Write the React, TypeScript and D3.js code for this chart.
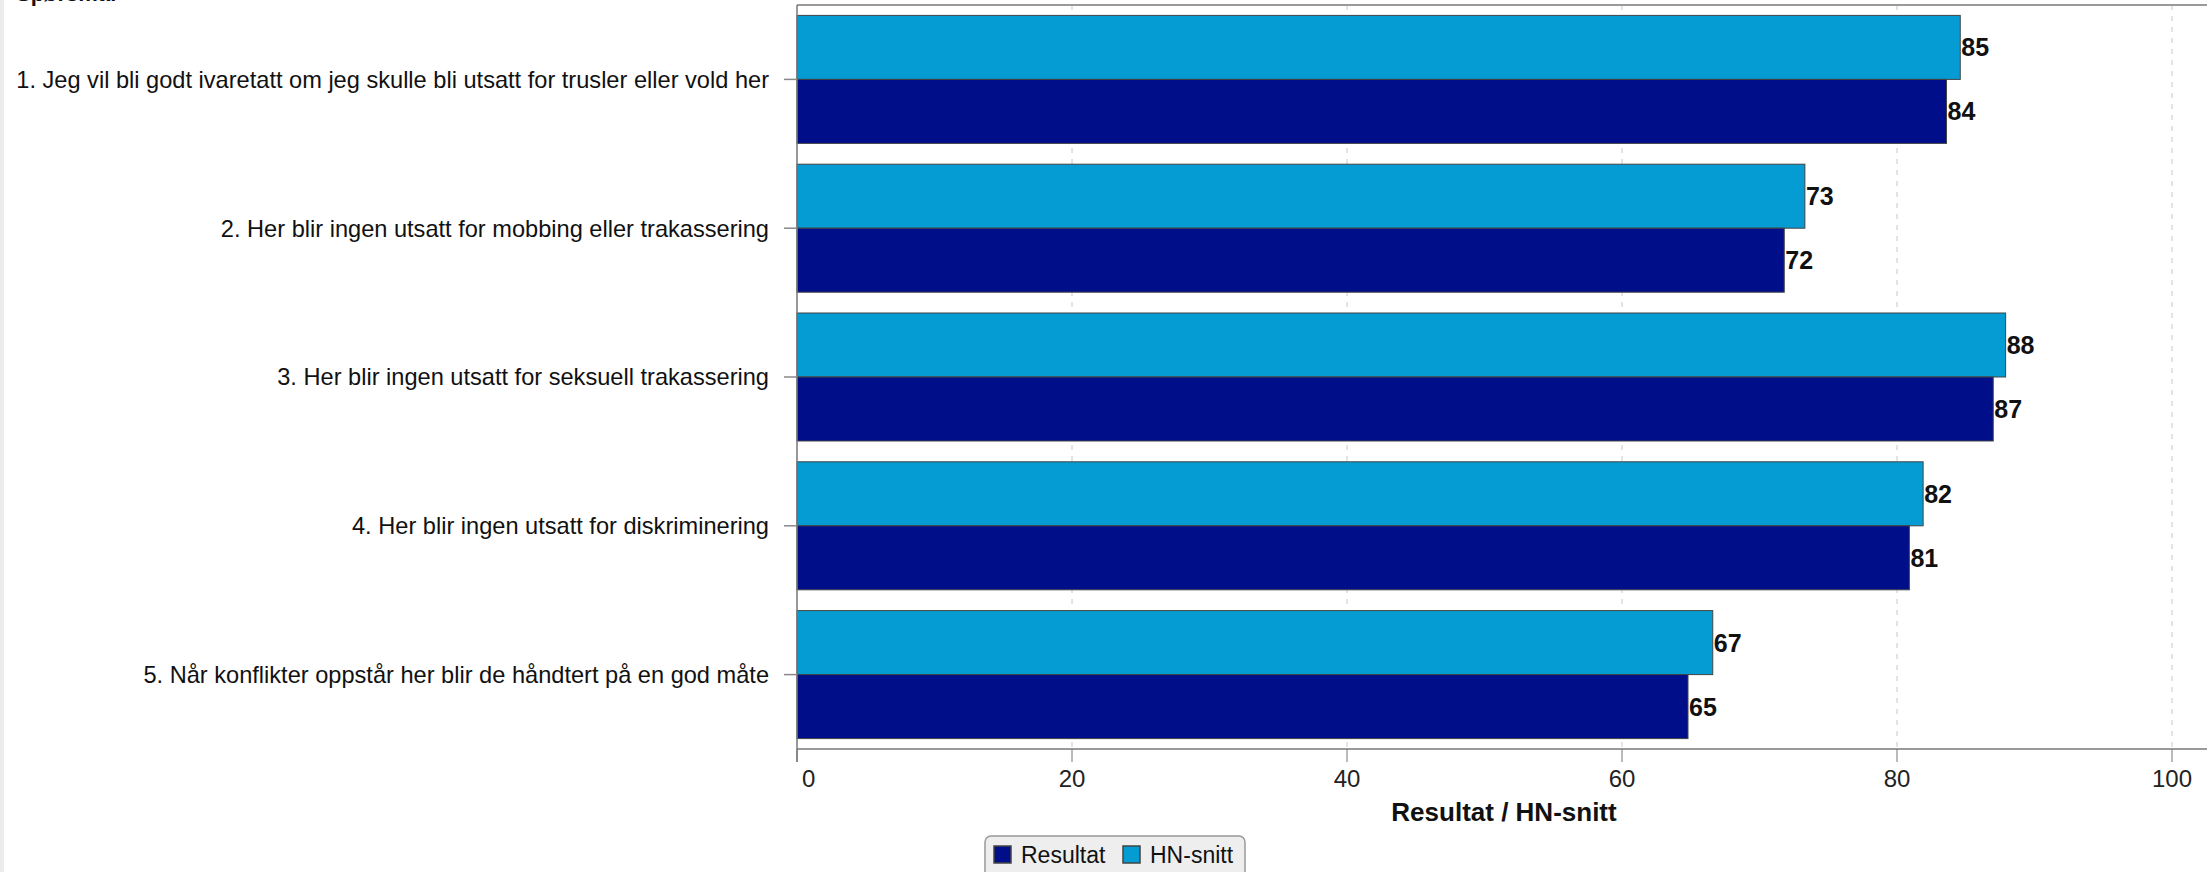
import React, { useEffect } from "react";
import * as d3 from "d3";

const categories = [
  "1. Jeg vil bli godt ivaretatt om jeg skulle bli utsatt for trusler eller vold her",
  "2. Her blir ingen utsatt for mobbing eller trakassering",
  "3. Her blir ingen utsatt for seksuell trakassering",
  "4. Her blir ingen utsatt for diskriminering",
  "5. Når konflikter oppstår her blir de håndtert på en god måte",
];
const seriesNames = ["HN-snitt", "Resultat"];
const hnValues = [84.6, 73.3, 87.9, 81.9, 66.6];
const resultatValues = [83.6, 71.8, 87.0, 80.9, 64.8];
const xTicks = [0, 20, 40, 60, 80, 100];
const axisTitle = "Resultat / HN-snitt";
const legendItems = ["Resultat", "HN-snitt"];
const topTitle = "Spørsmål";

const W = 2207;
const H = 872;
const FONT = "'Liberation Sans', Arial, Helvetica, sans-serif";
const colors: Record<string, string> = { "HN-snitt": "#049cd3", Resultat: "#000e8a" };

export default function App() {
  useEffect(() => {
    document.body.style.margin = "0";
    document.body.style.overflow = "hidden";
  }, []);

  const x = d3.scaleLinear().domain([0, 100]).range([797, 2172]);
  const plotTop = 5;
  const plotBottom = 749;
  const y = d3
    .scaleBand<string>()
    .domain(categories)
    .range([plotTop, plotBottom])
    .paddingInner(0.1398)
    .paddingOuter(0.0699);
  const inner = d3.scaleBand<string>().domain(seriesNames).range([0, y.bandwidth()]);
  const fmt = d3.format(".0f");
  const data = categories.map((c, i) => ({
    cat: c,
    vals: [
      { s: "HN-snitt", v: hnValues[i] },
      { s: "Resultat", v: resultatValues[i] },
    ],
  }));

  return (
    <div style={{ position: "absolute", left: 0, top: 0 }}>
      <svg width={W} height={H} style={{ display: "block", fontFamily: FONT }}>
        <rect x={0} y={0} width={W} height={H} fill="#ffffff" />
        <rect x={0} y={0} width={4} height={H} fill="#ececec" />
        <text x={16} y={1} fontSize={22} fontWeight="bold" fill="#111">
          {topTitle}
        </text>

        {/* grid lines */}
        {xTicks
          .filter((t) => t > 0)
          .map((t) => (
            <line
              key={"g" + t}
              x1={x(t)}
              x2={x(t)}
              y1={plotTop}
              y2={plotBottom}
              stroke="#c8c8c8"
              strokeWidth={1}
              strokeDasharray="5,6"
            />
          ))}

        {/* plot border top */}
        <line x1={x(0)} x2={W + 10} y1={plotTop} y2={plotTop} stroke="#999" strokeWidth={2} />

        {/* bars */}
        {data.map((d) => (
          <g key={d.cat} transform={`translate(0,${y(d.cat)})`}>
            {d.vals.map((b) => (
              <g key={b.s}>
                <rect
                  x={x(0)}
                  y={inner(b.s)}
                  width={x(b.v) - x(0)}
                  height={inner.bandwidth()}
                  fill={colors[b.s]}
                  stroke="#444"
                  strokeWidth={1}
                />
                <text
                  x={x(b.v) + 1}
                  y={(inner(b.s) as number) + inner.bandwidth() / 2}
                  dy="0.36em"
                  fontSize={25}
                  fontWeight="bold"
                  fill="#111"
                >
                  {fmt(b.v)}
                </text>
              </g>
            ))}
          </g>
        ))}

        {/* y axis */}
        <line x1={x(0)} x2={x(0)} y1={plotTop} y2={762} stroke="#777" strokeWidth={1.5} />
        {categories.map((c) => {
          const cy = (y(c) as number) + y.bandwidth() / 2;
          return (
            <g key={"yl" + c}>
              <line x1={784} x2={x(0)} y1={cy} y2={cy} stroke="#888" strokeWidth={1.5} />
              <text x={769} y={cy} dy="0.36em" textAnchor="end" fontSize={23.6} fill="#111">
                {c}
              </text>
            </g>
          );
        })}

        {/* x axis */}
        <line x1={x(0)} x2={W + 10} y1={plotBottom} y2={plotBottom} stroke="#777" strokeWidth={1.5} />
        {xTicks.map((t) => (
          <g key={"xt" + t}>
            <line x1={x(t)} x2={x(t)} y1={plotBottom} y2={762} stroke="#777" strokeWidth={1} />
            <text
              x={t === 0 ? x(t) + 5 : x(t)}
              y={787}
              textAnchor={t === 0 ? "start" : "middle"}
              fontSize={24}
              fill="#222"
            >
              {t}
            </text>
          </g>
        ))}
        <text x={1504} y={821} textAnchor="middle" fontSize={26} fontWeight="bold" fill="#111">
          {axisTitle}
        </text>

        {/* legend */}
        <g>
          <rect x={985} y={836} width={260} height={44} rx={6} fill="#eeeeee" stroke="#999" strokeWidth={1.5} />
          {legendItems.map((name, i) => {
            const lx = i === 0 ? 994 : 1123;
            return (
              <g key={"lg" + name}>
                <rect x={lx} y={846} width={17} height={17} fill={colors[name]} stroke="#444" strokeWidth={1.5} />
                <text x={lx + 27} y={863} fontSize={23} fill="#111">
                  {name}
                </text>
              </g>
            );
          })}
        </g>
      </svg>
    </div>
  );
}
